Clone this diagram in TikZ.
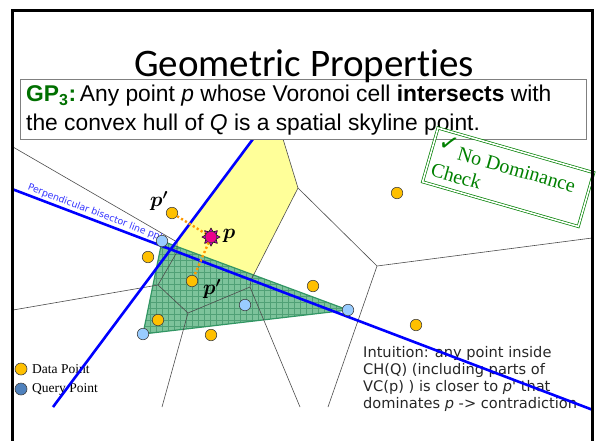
\documentclass[tikz,border=0pt]{standalone}
\usepackage{fontspec}
\usepackage{amsmath}
\setmainfont{Liberation Sans}
\newfontfamily\titlefont[Ligatures=NoCommon]{Carlito}
\newfontfamily\seriffont{Liberation Serif}
\newfontfamily\smallsans{DejaVu Sans}
\usetikzlibrary{shapes.geometric}
\definecolor{dataorange}{RGB}{255,192,0}
\definecolor{querylight}{RGB}{153,204,255}
\definecolor{querydark}{RGB}{79,129,189}
\definecolor{cellyellow}{RGB}{255,255,153}
\definecolor{hullfill}{RGB}{125,195,155}
\definecolor{hullgrid}{RGB}{80,160,118}
\definecolor{hulledge}{RGB}{50,150,100}
\definecolor{stampgreen}{RGB}{0,128,0}
\definecolor{gpgreen}{RGB}{0,112,0}
\definecolor{dotorange}{RGB}{255,153,0}

\begin{document}
\begin{tikzpicture}[x=1pt, y=-1pt,
    site/.style={circle, draw=black!75, line width=0.6pt, minimum size=11.5pt, inner sep=0pt},
    datapt/.style={site, fill=dataorange},
    querypt/.style={site, fill=querylight},
    vor/.style={black!70, line width=0.6pt},
    bisec/.style={blue, line width=2.6pt},
    dots/.style={dotorange, line width=2.4pt, dash pattern=on 2.2pt off 2.4pt},
    plabel/.style={font=\fontsize{21}{21}\selectfont, inner sep=0pt},
    stamptext/.style={anchor=base west, inner sep=0pt, text=stampgreen},
]
\useasboundingbox (0,0) rectangle (596,440);

% Voronoi cell of p
\fill[cellyellow] (253,139) -- (283,139) -- (298,188) -- (251,280) -- (177,252) -- (177,242) -- cycle;

% convex hull of the query points
\coordinate (h1) at (162,241);
\coordinate (h2) at (143,334);
\coordinate (h3) at (245,305);
\coordinate (h4) at (348,310);
\fill[hullfill] (h1) -- (h2) -- (h4) -- cycle;
\begin{scope}
  \clip (h1) -- (h2) -- (h4) -- cycle;
  \foreach \gx in {138,144,...,354} \draw[hullgrid, line width=0.35pt] (\gx,236) -- (\gx,338);
  \foreach \gy in {236,242,...,338} \draw[hullgrid, line width=0.35pt] (138,\gy) -- (354,\gy);
\end{scope}
\draw[hulledge, line width=1.2pt] (h1) -- (h2) -- (h4) -- cycle;

% Voronoi edges
\draw[vor] (13,147) -- (177,242) -- (177,252) -- (158,285) -- (13,310);
\draw[vor] (158,285) -- (188,313) -- (250,287) -- (251,280) -- (298,188) -- (283,139);
\draw[vor] (188,313) -- (162,407);
\draw[vor] (250,287) -- (300,407);
\draw[vor] (298,188) -- (377,266) -- (592,238);
\draw[vor] (377,266) -- (328,407);

% intuition text and legend
\node[font=\smallsans\fontsize{14.6}{17}\selectfont, text=black!85, align=left,
      anchor=north west, inner sep=0pt] (intu) at (363,346)
  {Intuition: any point inside\\CH(Q) (including parts of\\VC(p) ) is closer to \textit{p}' that\\dominates \textit{p} -> contradiction};
\node[site, fill=dataorange, minimum size=12pt] (lgd) at (21,369) {};
\node[site, fill=querydark, minimum size=12pt] (lgq) at (21,389) {};
\node[anchor=west, inner sep=0pt, font=\seriffont\fontsize{13.5}{13.5}\selectfont] (lgdt) at (32,369) {Data Point};
\node[anchor=west, inner sep=0pt, font=\seriffont\fontsize{13.5}{13.5}\selectfont] (lgqt) at (32,389) {Query Point};

% bisector lines
\coordinate (b1s) at (12,189);
\coordinate (b1e) at (593,410);
\coordinate (b2s) at (253,139);
\coordinate (b2e) at (53,407);
\draw[bisec] (b1s) -- (b1e)
  node[pos=0.019, sloped, anchor=south west, inner sep=1.5pt, text=blue!80!white,
       font=\smallsans\fontsize{9.4}{9.4}\selectfont] (bislab) {Perpendicular bisector line pp'};
\draw[bisec] (b2s) -- (b2e);

% data and query points
\node[datapt] (d1) at (172,213) {};
\node[datapt] (d2) at (148,257) {};
\node[datapt] (d3) at (192,281) {};
\node[datapt] (d4) at (158,320) {};
\node[datapt] (d5) at (211,335) {};
\node[datapt] (d6) at (313,286) {};
\node[datapt] (d7) at (397,193) {};
\node[datapt] (d8) at (416,325) {};
\node[querypt] (q1) at (h1) {};
\node[querypt] (q2) at (h2) {};
\node[querypt] (q3) at (h3) {};
\node[querypt] (q4) at (h4) {};

% the point p
\node[star, star points=8, star point ratio=1.6, minimum size=18pt, inner sep=0pt,
      fill={rgb,255:red,200;green,0;blue,200}, draw=black, line width=0.5pt] (pburst) at (211,237) {};
\node[site, fill=magenta] (p) at (211,237) {};
\draw[dots] (d1) -- (pburst) -- (d3);
\node[plabel] (plab) at (229,236) {$\boldsymbol{p}$};
\node[plabel] (p1lab) at (159,201) {$\boldsymbol{p'}$};
\node[plabel] (p2lab) at (212,289) {$\boldsymbol{p'}$};

% statement box
\node[draw=black!50, line width=1.2pt, fill=white, minimum width=566, minimum height=60,
      anchor=north west, inner sep=0pt] (gpbox) at (20,79) {};
\node[anchor=base west, inner sep=0pt, font=\fontsize{22.8}{22.8}\selectfont] (gpl1) at (26,101)
  {\textcolor{gpgreen}{\textbf{GP\textsubscript{3}:}}\,Any point \textit{p} whose Voronoi cell \textbf{intersects} with};
\node[anchor=base west, inner sep=0pt, font=\fontsize{22.8}{22.8}\selectfont] (gpl2) at (26,130)
  {the convex hull of \textit{Q} is a spatial skyline point.};

% stamp
\begin{scope}[shift={(438,128)}, rotate=-16, transform shape]
  \draw[stampgreen, double=white, double distance=1.6pt, line width=0.7pt] (0,0) rectangle (162,56);
  \node[stamptext, font=\smallsans\fontsize{24}{24}\selectfont] (tick) at (5,20) {✓};
  \node[stamptext, font=\seriffont\fontsize{20}{20}\selectfont] (nodom) at (26,25) {No Dominance};
  \node[stamptext, font=\seriffont\fontsize{20}{20}\selectfont] (chk) at (5,48) {Check};
\end{scope}

% title and frame
\node[font=\titlefont\fontsize{39}{39}\selectfont, anchor=base, inner sep=0pt] (title) at (304,76) {Geometric Properties};
\draw[line width=3pt] (12,445) -- (12,10) -- (592,10) -- (592,445);
\end{tikzpicture}
\end{document}
